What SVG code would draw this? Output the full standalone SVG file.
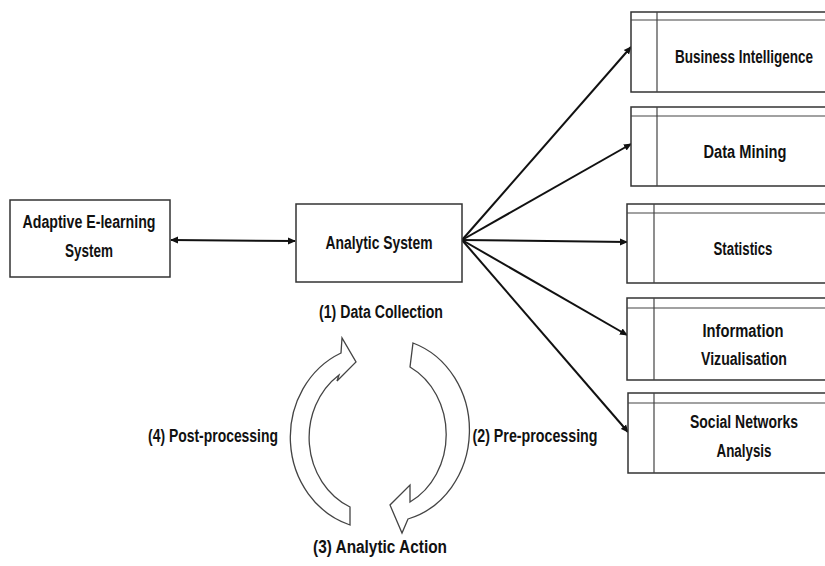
<svg xmlns="http://www.w3.org/2000/svg" width="825" height="566" viewBox="0 0 825 566">
<style>
  .box { fill: #fff; stroke: #333; stroke-width: 1.5; }
  .div { stroke: #444; stroke-width: 1.2; fill: none; }
  .t { font-family: "Liberation Sans", Arial, sans-serif; font-weight: bold; font-size: 17.5px; fill: #111; text-anchor: middle; }
  .conn { stroke: #111; stroke-width: 2; fill: none; }
  .cyc { fill: #fff; stroke: #444; stroke-width: 1.3; }
</style>
<defs>
  <marker id="ah" markerWidth="8" markerHeight="8" refX="7" refY="4" orient="auto" markerUnits="userSpaceOnUse">
    <path d="M0,0.5 L8,4 L0,7.5 Z" fill="#111"/>
  </marker>
  <marker id="ahs" markerWidth="8" markerHeight="8" refX="1" refY="4" orient="auto" markerUnits="userSpaceOnUse">
    <path d="M8,0.5 L0,4 L8,7.5 Z" fill="#111"/>
  </marker>
</defs>
<rect width="825" height="566" fill="#fff"/>

<g id="connectors">
  <line class="conn" x1="171" y1="240" x2="295" y2="241" marker-start="url(#ahs)" marker-end="url(#ah)"/>
  <line class="conn" x1="462" y1="240" x2="631" y2="47" marker-end="url(#ah)"/>
  <line class="conn" x1="462" y1="240" x2="631" y2="144" marker-end="url(#ah)"/>
  <line class="conn" x1="462" y1="240" x2="627" y2="242" marker-end="url(#ah)"/>
  <line class="conn" x1="462" y1="240" x2="627" y2="335" marker-end="url(#ah)"/>
  <line class="conn" x1="462" y1="240" x2="628" y2="432" marker-end="url(#ah)"/>
</g>

<g id="adaptive">
  <rect class="box" x="10" y="200" width="160" height="77"/>
  <text class="t" x="89" y="228" textLength="133" lengthAdjust="spacingAndGlyphs">Adaptive E-learning</text>
  <text class="t" x="89" y="257" textLength="48" lengthAdjust="spacingAndGlyphs">System</text>
</g>

<g id="analytic">
  <rect class="box" x="296" y="204" width="166" height="78"/>
  <text class="t" x="379" y="249" textLength="107" lengthAdjust="spacingAndGlyphs">Analytic System</text>
</g>

<g id="bi">
  <path class="box" d="M825,12 H631 V92 H825"/>
  <line class="div" x1="631" y1="20" x2="825" y2="20"/>
  <line class="div" x1="657" y1="12" x2="657" y2="92"/>
  <text class="t" x="744" y="63" textLength="138" lengthAdjust="spacingAndGlyphs">Business Intelligence</text>
</g>

<g id="dm">
  <path class="box" d="M825,107 H631 V186 H825"/>
  <line class="div" x1="631" y1="116" x2="825" y2="116"/>
  <line class="div" x1="657" y1="107" x2="657" y2="186"/>
  <text class="t" x="745" y="158" textLength="83" lengthAdjust="spacingAndGlyphs">Data Mining</text>
</g>

<g id="stats">
  <path class="box" d="M825,204 H627 V283 H825"/>
  <line class="div" x1="627" y1="213" x2="825" y2="213"/>
  <line class="div" x1="654" y1="204" x2="654" y2="283"/>
  <text class="t" x="743" y="255" textLength="59" lengthAdjust="spacingAndGlyphs">Statistics</text>
</g>

<g id="infovis">
  <path class="box" d="M825,298 H627 V380 H825"/>
  <line class="div" x1="627" y1="308" x2="825" y2="308"/>
  <line class="div" x1="654" y1="298" x2="654" y2="380"/>
  <text class="t" x="743" y="337" textLength="81" lengthAdjust="spacingAndGlyphs">Information</text>
  <text class="t" x="744" y="365" textLength="86" lengthAdjust="spacingAndGlyphs">Vizualisation</text>
</g>

<g id="sna">
  <path class="box" d="M825,393 H628 V473 H825"/>
  <line class="div" x1="628" y1="403" x2="825" y2="403"/>
  <line class="div" x1="654" y1="393" x2="654" y2="473"/>
  <text class="t" x="744" y="428" textLength="108" lengthAdjust="spacingAndGlyphs">Social Networks</text>
  <text class="t" x="744" y="457" textLength="55" lengthAdjust="spacingAndGlyphs">Analysis</text>
</g>

<g id="cycle">
  <path class="cyc" d="M350,507 A69,76 0 0 1 339,375 L337,381 L356,362 L342,338 L341,353 A85,92 0 0 0 350,525 Z"/>
  <path class="cyc" d="M413,343 A83,92 0 0 1 408,519 L402,533 L390,505 L410,485 L410,502 A67,76 0 0 0 410,367 Z"/>
</g>

<g id="labels">
  <text class="t" x="381" y="318" textLength="124" lengthAdjust="spacingAndGlyphs">(1) Data Collection</text>
  <text class="t" x="535" y="442" textLength="125" lengthAdjust="spacingAndGlyphs">(2) Pre-processing</text>
  <text class="t" x="380" y="553" textLength="134" lengthAdjust="spacingAndGlyphs">(3) Analytic Action</text>
  <text class="t" x="213" y="442" textLength="130" lengthAdjust="spacingAndGlyphs">(4) Post-processing</text>
</g>
</svg>
